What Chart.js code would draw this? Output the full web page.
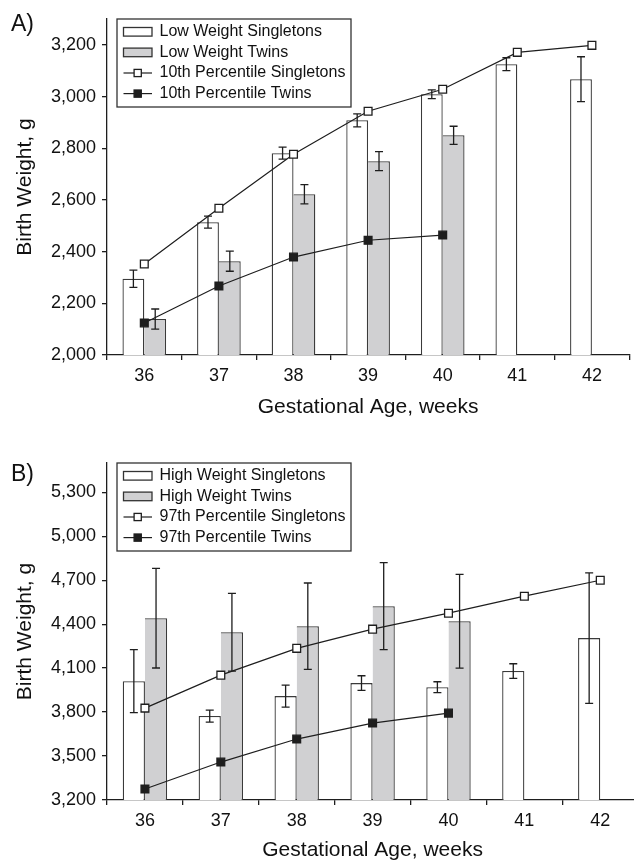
<!DOCTYPE html>
<html>
<head>
<meta charset="utf-8">
<title>Birth weight by gestational age</title>
<script src="https://cdn.jsdelivr.net/npm/chart.js@4.4.1/dist/chart.umd.min.js"></script>
<style>
  html, body { margin: 0; padding: 0; background: #fff; overflow: hidden; width: 634px; height: 861px; }
  canvas { position: absolute; left: 0; }
  .tag { position: absolute; font-family: "Liberation Sans", Arial, Helvetica, sans-serif; font-size: 23px; line-height: 23px; color: #111; }
</style>
</head>
<body>
<canvas id="chartA" width="636" height="418" style="top:0"></canvas>
<canvas id="chartB" width="645" height="443" style="top:418px"></canvas>
<div class="tag" style="left:11px;top:12px">A)</div>
<div class="tag" style="left:11px;top:462px">B)</div>
<script>
const FONT = '"Liberation Sans", Arial, Helvetica, sans-serif';
Chart.defaults.font.family = FONT;
Chart.defaults.color = '#111';

// gestational age, weeks
const weeks = ['36', '37', '38', '39', '40', '41', '42'];

// panel A – low birth weight
const ticksA = [2000, 2200, 2400, 2600, 2800, 3000, 3200];
const lowSingletons = [2295, 2514, 2781, 2908, 3009, 3125, 3067];
const lowSingletonsErr = [33, 23, 23, 25, 17, 25, 87];
const lowTwins = [2139, 2363, 2622, 2750, 2850, null, null];
const lowTwinsErr = [39, 39, 37, 37, 35, null, null];
const p10Singletons = [2352, 2568, 2777, 2943, 3028, 3171, 3198];
const p10Twins = [2124, 2267, 2379, 2444, 2464, null, null];

// panel B – high birth weight
const ticksB = [3200, 3500, 3800, 4100, 4400, 4700, 5000, 5300];
const highSingletons = [4011, 3773, 3909, 3998, 3970, 4080, 4305];
const highSingletonsErr = [215, 41, 75, 50, 37, 50, 445];
const highTwins = [4441, 4345, 4386, 4523, 4420, null, null];
const highTwinsErr = [340, 265, 295, 297, 320, null, null];
const p97Singletons = [3827, 4052, 4235, 4366, 4475, 4591, 4700];
const p97Twins = [3275, 3459, 3616, 3725, 3793, null, null];

const INK = '#1e1e1e';

// draws +/- error whiskers right after each bar dataset
const errorBars = {
  id: 'errorBars',
  afterDatasetDraw(chart, args) {
    const ds = chart.data.datasets[args.index];
    if (!ds.errors) return;
    const y = chart.scales.y;
    const ctx = chart.ctx;
    ctx.save();
    ctx.strokeStyle = INK;
    ctx.lineWidth = 1.3;
    args.meta.data.forEach((bar, i) => {
      const v = ds.data[i], e = ds.errors[i];
      if (v == null || e == null) return;
      const yt = y.getPixelForValue(v + e);
      const yb = y.getPixelForValue(v - e);
      const x = bar.x;
      ctx.beginPath();
      ctx.moveTo(x, yt); ctx.lineTo(x, yb);
      ctx.moveTo(x - 4, yt); ctx.lineTo(x + 4, yt);
      ctx.moveTo(x - 4, yb); ctx.lineTo(x + 4, yb);
      ctx.stroke();
    });
    ctx.restore();
  }
};

// boxed legend in the upper-left corner of the plot
const boxLegend = {
  id: 'boxLegend',
  afterDraw(chart) {
    const { ctx, chartArea } = chart;
    const left = chartArea.left + 10, top = chartArea.top;
    const w = 234, h = 88;
    ctx.save();
    ctx.fillStyle = '#fff';
    ctx.fillRect(left, top, w, h);
    ctx.strokeStyle = '#333';
    ctx.lineWidth = 1.3;
    ctx.strokeRect(left, top, w, h);
    ctx.font = '16px ' + FONT;
    ctx.textBaseline = 'middle';
    chart.data.datasets.forEach((ds, i) => {
      const cy = top + 12.8 + i * 20.6;
      const sx = left + 6.5;
      if (ds.type === 'line') {
        ctx.strokeStyle = INK;
        ctx.lineWidth = 1.2;
        ctx.beginPath();
        ctx.moveTo(sx, cy); ctx.lineTo(sx + 28.5, cy);
        ctx.stroke();
        ctx.fillStyle = ds.pointBackgroundColor;
        ctx.fillRect(sx + 10.6, cy - 3.6, 7.2, 7.2);
        ctx.lineWidth = 1.3;
        ctx.strokeRect(sx + 10.6, cy - 3.6, 7.2, 7.2);
      } else {
        ctx.fillStyle = ds.backgroundColor;
        ctx.fillRect(sx, cy - 4.3, 28.5, 8.6);
        ctx.strokeStyle = '#333';
        ctx.lineWidth = 1.3;
        ctx.strokeRect(sx, cy - 4.3, 28.5, 8.6);
      }
      ctx.fillStyle = '#111';
      ctx.fillText(ds.label, left + 42.5, cy);
    });
    ctx.restore();
  }
};

function barSet(label, data, errors, fill, skip) {
  return {
    type: 'bar', label, data, errors,
    backgroundColor: fill, borderColor: '#3a3a3a', borderWidth: 1.3,
    borderSkipped: skip,
    barPercentage: 1, categoryPercentage: 0.585,
    order: 1
  };
}

function lineSet(label, data, fill) {
  return {
    type: 'line', label, data,
    borderColor: INK, borderWidth: 1.2, tension: 0, fill: false,
    pointStyle: 'rect', pointRadius: 5.5,
    pointBackgroundColor: fill, pointBorderColor: INK, pointBorderWidth: 1.3,
    order: 0
  };
}

function makeChart(id, datasets, yMin, yMax, yTicks, padTop, titlePad) {
  return new Chart(document.getElementById(id), {
    type: 'bar',
    data: { labels: weeks, datasets },
    options: {
      responsive: false,
      animation: false,
      layout: { padding: { top: padTop, left: 0, right: 0, bottom: 0 } },
      plugins: { legend: { display: false }, tooltip: { enabled: false } },
      scales: {
        x: {
          offset: true,
          grid: { offset: true, drawOnChartArea: false, drawTicks: true, tickLength: 5, color: INK, lineWidth: 1.3 },
          border: { color: INK, width: 1.3 },
          ticks: { font: { size: 18 }, color: '#111', padding: 5 },
          title: {
            display: true, text: 'Gestational Age, weeks', color: '#111',
            font: { size: 21, lineHeight: 1 }, padding: { top: titlePad, bottom: 0 }
          }
        },
        y: {
          min: yMin, max: yMax,
          afterBuildTicks(scale) { scale.ticks = yTicks.map((v) => ({ value: v })); },
          afterFit(scale) { scale.width = 107; },
          grid: { drawOnChartArea: false, drawTicks: true, tickLength: 5, color: INK, lineWidth: 1.3 },
          border: { color: INK, width: 1.3 },
          ticks: {
            padding: 6, font: { size: 18 }, color: '#111',
            callback: (v) => v.toLocaleString('en-US')
          },
          title: {
            display: true, text: 'Birth Weight, g', color: '#111',
            font: { size: 21, lineHeight: 1 }, padding: { top: 14.5, bottom: 0 }
          }
        }
      }
    },
    plugins: [errorBars, boxLegend]
  });
}

makeChart('chartA', [
  barSet('Low Weight Singletons', lowSingletons, lowSingletonsErr, '#ffffff', 'start'),
  barSet('Low Weight Twins', lowTwins, lowTwinsErr, '#d0d0d2', 'left'),
  lineSet('10th Percentile Singletons', p10Singletons, '#ffffff'),
  lineSet('10th Percentile Twins', p10Twins, '#1e1e1e')
], 2000, 3300, ticksA, 19, 5.4);

makeChart('chartB', [
  barSet('High Weight Singletons', highSingletons, highSingletonsErr, '#ffffff', 'start'),
  barSet('High Weight Twins', highTwins, highTwinsErr, '#d0d0d2', 'left'),
  lineSet('97th Percentile Singletons', p97Singletons, '#ffffff'),
  lineSet('97th Percentile Twins', p97Twins, '#1e1e1e')
], 3200, 5500, ticksB, 45, 3.4);
</script>
</body>
</html>
